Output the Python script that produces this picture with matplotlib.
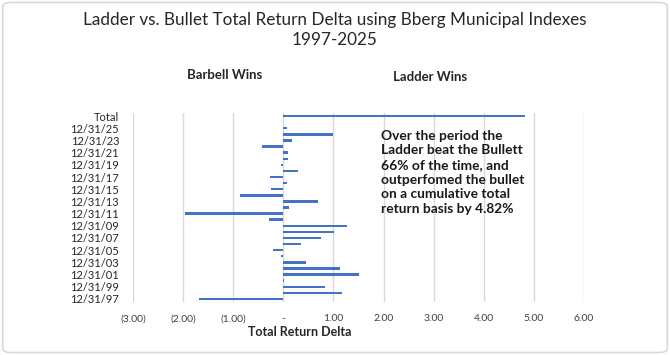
import matplotlib
matplotlib.use("Agg")
import matplotlib.pyplot as plt
from matplotlib.patches import FancyBboxPatch
from matplotlib.ticker import FuncFormatter

plt.rcParams['font.family'] = ['Lato', 'DejaVu Sans']

# year-end dates, 1997 -> 2025, then the cumulative total
years = ['12/31/%02d' % (y % 100) for y in range(1997, 2026)]
deltas = [-1.69, 1.17, 0.83, 0.02, 1.52, 1.14, 0.45, -0.05, -0.21, 0.36,
          0.75, 1.01, 1.28, -0.28, -1.97, 0.12, 0.70, -0.86, -0.25, 0.08,
          -0.27, 0.29, -0.05, 0.10, 0.10, -0.43, 0.17, 1.00, 0.08]
total = 4.82

# the sheet has one empty row between 12/31/25 and Total
labels = years + ['', 'Total']
note = ("Over the period the\nLadder beat the Bullett\n66% of the time, and\n"
        "outperfomed the bullet\non a cumulative total\nreturn basis by 4.82%")

def fmt(v, pos):
    if abs(v) < 1e-9:
        return '-'
    if v < 0:
        return '(%.2f)' % abs(v)
    return '%.2f' % v

fig = plt.figure(figsize=(6.7, 3.55), dpi=100)
ax = fig.add_axes([0.1985, 0.1493, 0.673, 0.5324])

ypos = list(range(len(deltas)))
ax.barh(ypos, deltas, height=0.4, color='#4472C4', zorder=3)
ax.barh([len(labels) - 1], [total], height=0.4, color='#4472C4', zorder=3)

ax.set_xlim(-3, 6)
ax.set_ylim(-0.5, len(labels) - 0.5)
ax.set_xticks(range(-3, 7))
ax.xaxis.set_major_formatter(FuncFormatter(fmt))
ticks = list(range(0, len(labels), 2))
ax.set_yticks(ticks)
ax.set_yticklabels([labels[i] for i in ticks])
ax.grid(axis='x', color='#d9d9d9', linewidth=1, zorder=0)
for s in ax.spines.values():
    s.set_visible(False)
ax.tick_params(axis='x', length=0, labelsize=7.5, colors='#404040', pad=9)
ax.tick_params(axis='y', length=0, labelsize=8, colors='#262626', pad=10)

fig.text(0.5, 0.943, 'Ladder vs. Bullet Total Return Delta using Bberg Municipal Indexes',
         ha='center', va='center', fontsize=12.3, color='#262626')
fig.text(0.5, 0.887, '1997-2025', ha='center', va='center', fontsize=12.3,
         color='#262626')
fig.text(0.336, 0.789, 'Barbell Wins', ha='center', va='center', fontsize=9.5,
         fontweight='bold', color='#262626')
fig.text(0.642, 0.783, 'Ladder Wins', ha='center', va='center', fontsize=9.5,
         fontweight='bold', color='#262626')
fig.text(0.448, 0.065, 'Total Return Delta', ha='center', va='center', fontsize=9,
         fontweight='bold', color='#262626')
fig.text(0.569, 0.635, note, ha='left', va='top', fontsize=9.9, fontweight='bold',
         color='#1a1a1a', linespacing=1.27)

border = FancyBboxPatch((0.004, 0.007), 0.992, 0.986, boxstyle='round,pad=0,rounding_size=0.012',
                        transform=fig.transFigure, facecolor='none', edgecolor='#d9d9d9',
                        linewidth=1.2)
fig.patches.append(border)

fig.savefig('out.png', dpi=100, facecolor='white')
